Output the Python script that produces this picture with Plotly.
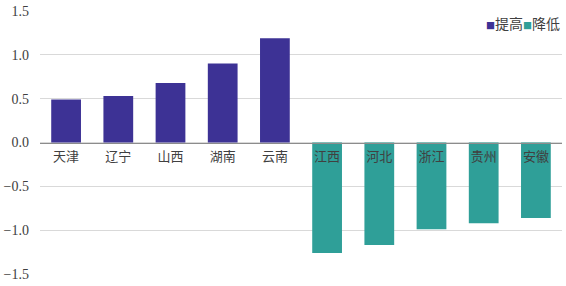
import plotly.graph_objects as go

categories = ["天津", "辽宁", "山西", "湖南", "云南", "江西", "河北", "浙江", "贵州", "安徽"]
raise_vals = [0.49, 0.53, 0.68, 0.90, 1.19, None, None, None, None, None]
lower_vals = [None, None, None, None, None, -1.26, -1.17, -0.99, -0.92, -0.86]
series_names = ["提高", "降低"]
series_colors = ["#3d3295", "#2f9f98"]
y_ticks = [-1.5, -1.0, -0.5, 0.0, 0.5, 1.0, 1.5]

fig = go.Figure()
fig.add_trace(go.Bar(x=categories, y=raise_vals, name=series_names[0],
                     marker=dict(color=series_colors[0], line=dict(width=0))))
fig.add_trace(go.Bar(x=categories, y=lower_vals, name=series_names[1],
                     marker=dict(color=series_colors[1], line=dict(width=0))))

legend_text = "".join(
    f"<span style='color:{c};font-size:9px'>■</span>{n}"
    for n, c in zip(series_names, series_colors)
)
fig.add_annotation(text=legend_text, xref="paper", yref="paper", x=1.0, y=0.955,
                   xanchor="right", yanchor="middle", showarrow=False,
                   font=dict(family="Noto Sans CJK SC", size=14, color="#404040"))

serif = "'Liberation Serif', 'DejaVu Serif', serif"
fig.update_layout(
    width=566, height=286,
    margin=dict(l=38, r=4, t=9, b=8),
    paper_bgcolor="white", plot_bgcolor="white",
    barmode="overlay", bargap=0.43,
    font=dict(family=serif, size=14, color="#404040"),
    showlegend=False,
)
fig.update_yaxes(range=[-1.5, 1.5], tickvals=y_ticks, tickformat=".1f",
                 showgrid=True, gridcolor="#d9d9d9", gridwidth=1,
                 zeroline=False, showline=False, ticks="", ticklabelstandoff=10,
                 tickfont=dict(family=serif, size=14, color="#404040"))
fig.update_xaxes(anchor="free", position=0.5, showline=True, linecolor="#8c8c8c",
                 linewidth=1, ticks="", showgrid=False, zeroline=False,
                 tickfont=dict(family="Noto Sans CJK SC", size=13, color="#404040"),
                 ticklabelstandoff=2)

fig.write_html("out.html")
